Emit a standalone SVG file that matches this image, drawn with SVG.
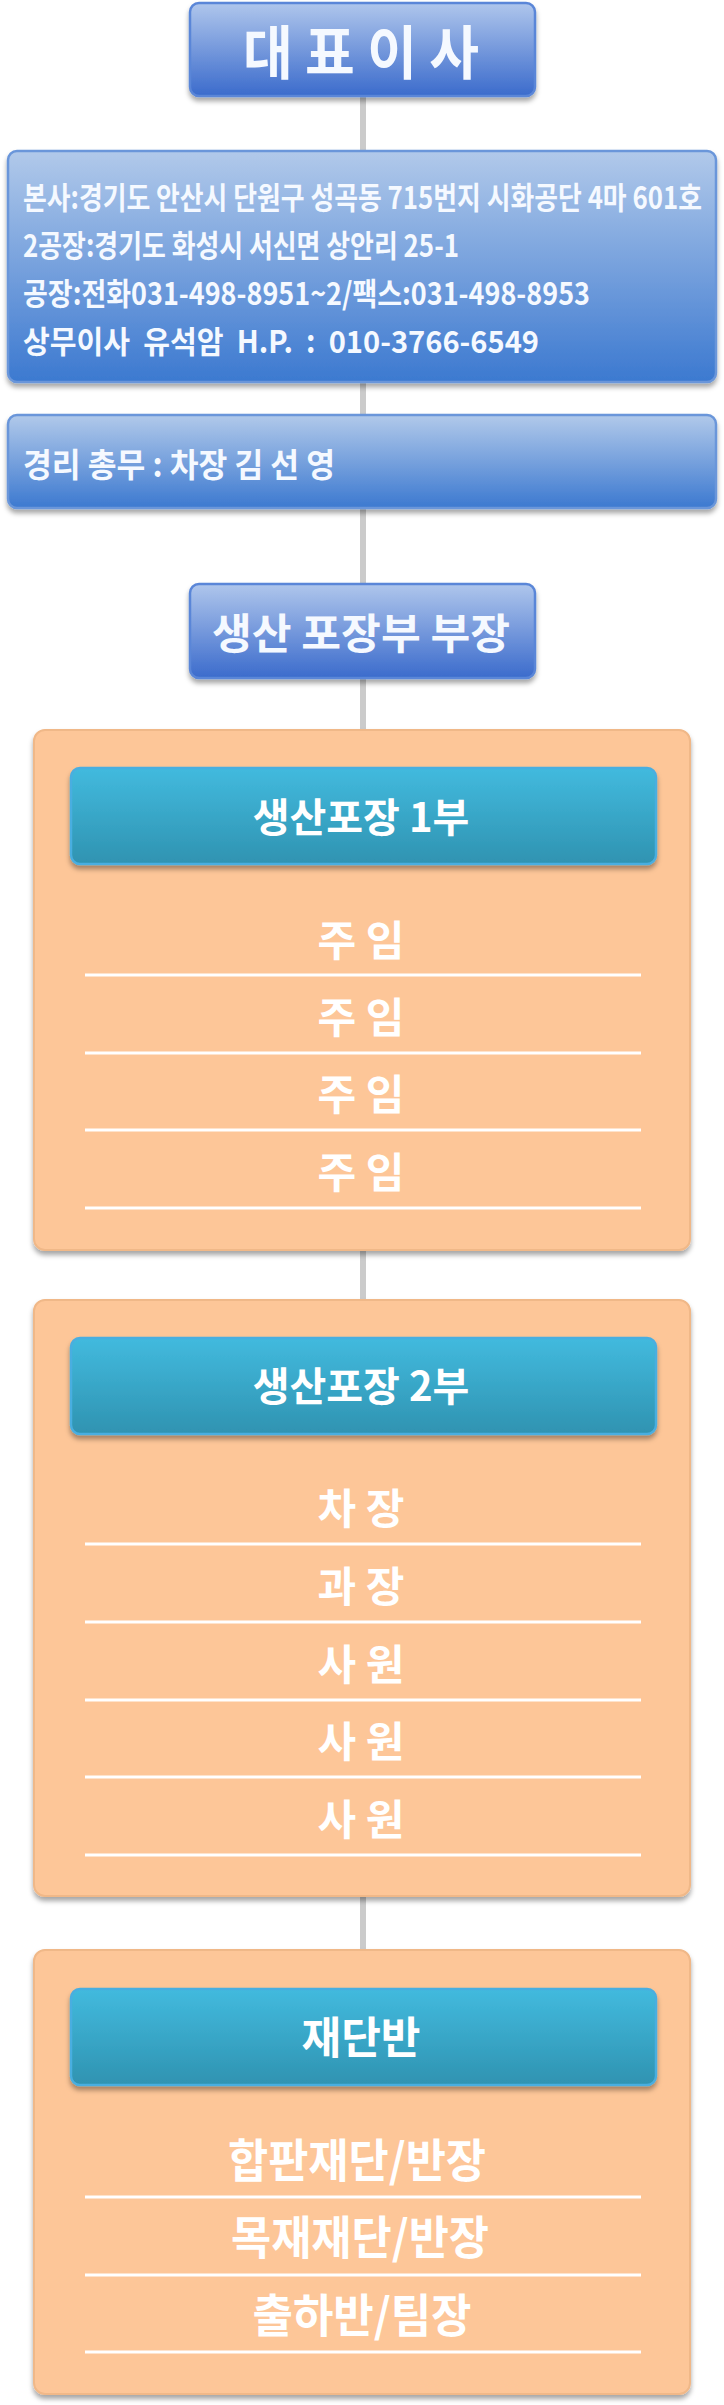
<svg xmlns="http://www.w3.org/2000/svg" width="724" height="2405" viewBox="0 0 724 2405">
<defs>
<linearGradient id="gBlue" x1="0" y1="0" x2="0" y2="1">
<stop offset="0" stop-color="#afc6ec"/>
<stop offset="1" stop-color="#3b6bcc"/>
</linearGradient>
<linearGradient id="gBlue2" x1="0" y1="0" x2="0" y2="1">
<stop offset="0" stop-color="#b1c9ea"/>
<stop offset="1" stop-color="#3c79d0"/>
</linearGradient>
<linearGradient id="gCyan" x1="0" y1="0" x2="0" y2="1">
<stop offset="0" stop-color="#42bade"/>
<stop offset="1" stop-color="#2f93b1"/>
</linearGradient>
<filter id="sh" x="-5%" y="-10%" width="110%" height="130%">
<feDropShadow dx="0" dy="4" stdDeviation="2.5" flood-color="#000" flood-opacity="0.35"/>
</filter>
</defs>
<style>
.blue{fill:url(#gBlue);stroke:#5a86d8;stroke-width:2.5}
.blue2{fill:url(#gBlue2);stroke:#6a96da;stroke-width:2.5}
.cyan{fill:url(#gCyan);stroke:#4aaee0;stroke-width:2.5}
.org{fill:#fdc698;stroke:#f0b888;stroke-width:2}
.conn{stroke:#cbcbcb;stroke-width:6;fill:none}
.sep{stroke:#ffffff;stroke-width:3}
.t{font-family:"Noto Sans CJK KR","Noto Sans",sans-serif;fill:#f5f9ff;white-space:pre}
.w{font-family:"Noto Sans CJK KR","Noto Sans",sans-serif;fill:#ffffff;font-weight:700;text-anchor:middle}
</style>
<g id="connectors">
<line class="conn" x1="363" y1="95" x2="363" y2="152"/>
<line class="conn" x1="363" y1="380" x2="363" y2="416"/>
<line class="conn" x1="363" y1="507" x2="363" y2="585"/>
<line class="conn" x1="363" y1="677" x2="363" y2="732"/>
<line class="conn" x1="363" y1="1248" x2="363" y2="1302"/>
<line class="conn" x1="363" y1="1894" x2="363" y2="1952"/>
</g>
<g id="ceo">
<rect class="blue" x="190" y="3" width="345" height="93" rx="9" filter="url(#sh)"/>
<text class="t" x="361" y="74" font-size="58" font-weight="700" text-anchor="middle" textLength="236" lengthAdjust="spacingAndGlyphs">대 표 이 사</text>
</g>
<g id="address">
<rect class="blue2" x="8" y="151" width="708" height="231" rx="9" filter="url(#sh)"/>
<text class="t" x="23" y="209" font-size="31" font-weight="700" textLength="679" lengthAdjust="spacingAndGlyphs">본사:경기도 안산시 단원구 성곡동 715번지 시화공단 4마 601호</text>
<text class="t" x="23" y="257" font-size="31" font-weight="700" textLength="436" lengthAdjust="spacingAndGlyphs">2공장:경기도 화성시 서신면 상안리 25-1</text>
<text class="t" x="23" y="305" font-size="31" font-weight="700" textLength="567" lengthAdjust="spacingAndGlyphs">공장:전화031-498-8951~2/팩스:031-498-8953</text>
<text class="t" x="23" y="353" font-size="31" font-weight="700" textLength="516" lengthAdjust="spacingAndGlyphs">상무이사  유석암  H.P.  :  010-3766-6549</text>
</g>
<g id="admin">
<rect class="blue2" x="8" y="415" width="708" height="93" rx="9" filter="url(#sh)"/>
<text class="t" x="23" y="477" font-size="33" font-weight="700" textLength="312" lengthAdjust="spacingAndGlyphs">경리 총무 : 차장 김 선 영</text>
</g>
<g id="manager">
<rect class="blue" x="190" y="584" width="345" height="94" rx="9" filter="url(#sh)"/>
<text class="t" x="361" y="649" font-size="42" font-weight="700" text-anchor="middle" textLength="298" lengthAdjust="spacingAndGlyphs">생산 포장부 부장</text>
</g>
<g id="dept1">
<rect class="org" x="34" y="730" width="656" height="520" rx="11" filter="url(#sh)"/>
<rect class="cyan" x="71" y="768" width="585" height="96" rx="9" filter="url(#sh)"/>
<text class="w" x="361" y="832" font-size="40">생산포장 1부</text>
<text class="w" x="361" y="956" font-size="42">주 임</text>
<line class="sep" x1="85" y1="975" x2="641" y2="975"/>
<text class="w" x="361" y="1033" font-size="42">주 임</text>
<line class="sep" x1="85" y1="1053" x2="641" y2="1053"/>
<text class="w" x="361" y="1110" font-size="42">주 임</text>
<line class="sep" x1="85" y1="1130" x2="641" y2="1130"/>
<text class="w" x="361" y="1188" font-size="42">주 임</text>
<line class="sep" x1="85" y1="1208" x2="641" y2="1208"/>
</g>
<g id="dept2">
<rect class="org" x="34" y="1300" width="656" height="596" rx="11" filter="url(#sh)"/>
<rect class="cyan" x="71" y="1338" width="585" height="96" rx="9" filter="url(#sh)"/>
<text class="w" x="361" y="1401" font-size="40">생산포장 2부</text>
<text class="w" x="361" y="1524" font-size="42">차 장</text>
<line class="sep" x1="85" y1="1544" x2="641" y2="1544"/>
<text class="w" x="361" y="1602" font-size="42">과 장</text>
<line class="sep" x1="85" y1="1622" x2="641" y2="1622"/>
<text class="w" x="361" y="1680" font-size="42">사 원</text>
<line class="sep" x1="85" y1="1700" x2="641" y2="1700"/>
<text class="w" x="361" y="1757" font-size="42">사 원</text>
<line class="sep" x1="85" y1="1777" x2="641" y2="1777"/>
<text class="w" x="361" y="1835" font-size="42">사 원</text>
<line class="sep" x1="85" y1="1855" x2="641" y2="1855"/>
</g>
<g id="dept3">
<rect class="org" x="34" y="1950" width="656" height="444" rx="11" filter="url(#sh)"/>
<rect class="cyan" x="71" y="1989" width="585" height="96" rx="9" filter="url(#sh)"/>
<text class="w" x="361" y="2054" font-size="44" textLength="119" lengthAdjust="spacingAndGlyphs">재단반</text>
<text class="w" x="357" y="2177" font-size="46" textLength="258" lengthAdjust="spacingAndGlyphs">합판재단/반장</text>
<line class="sep" x1="85" y1="2197" x2="641" y2="2197"/>
<text class="w" x="360" y="2254" font-size="46" textLength="258" lengthAdjust="spacingAndGlyphs">목재재단/반장</text>
<line class="sep" x1="85" y1="2275" x2="641" y2="2275"/>
<text class="w" x="362" y="2332" font-size="46" textLength="219" lengthAdjust="spacingAndGlyphs">출하반/팀장</text>
<line class="sep" x1="85" y1="2352" x2="641" y2="2352"/>
</g>
</svg>
